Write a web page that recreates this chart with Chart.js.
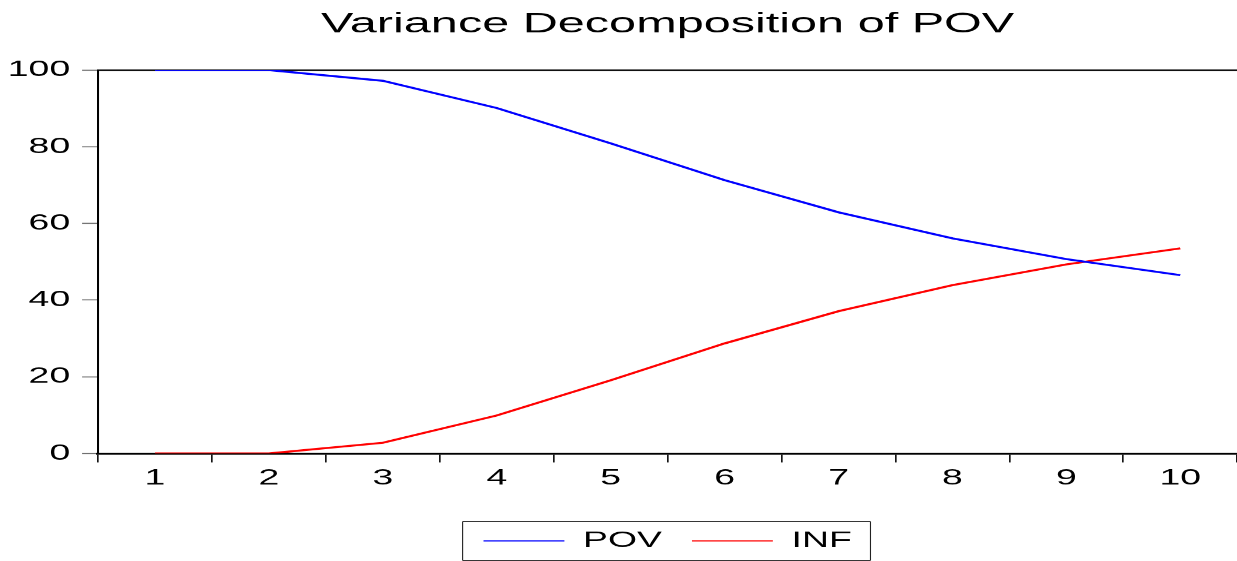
<!DOCTYPE html>
<html>
<head>
<meta charset="utf-8">
<title>Variance Decomposition of POV</title>
<script src="https://cdn.jsdelivr.net/npm/chart.js@4.4.1/dist/chart.umd.min.js"></script>
<style>
  html, body { margin: 0; padding: 0; background: #fff; overflow: hidden; }
  #chart { display: block; }
</style>
</head>
<body>
<!-- drawn on a narrow canvas and stretched wide in CSS, which gives the wide lettering -->
<canvas id="chart" width="728" height="561" style="width:1237px;height:561px"></canvas>
<script>
const periods = ['1', '2', '3', '4', '5', '6', '7', '8', '9', '10'];
const povShare = [100, 100, 97.2, 90.1, 80.9, 71.3, 62.9, 56.1, 50.7, 46.5];
const infShare = [0, 0, 2.8, 9.9, 19.1, 28.7, 37.1, 43.9, 49.3, 53.5];
const yTicks = [0, 20, 40, 60, 80, 100];

const FONT = "'Liberation Sans', Arial, Helvetica, sans-serif";
const STRETCH = 1.6995;

// box around the legend items
const legendFrame = {
    id: 'legendFrame',
    afterDraw(chart) {
        const boxes = chart.legend && chart.legend.legendHitBoxes;
        if (!boxes || !boxes.length) return;
        const first = boxes[0];
        const last = boxes[boxes.length - 1];
        const left = first.left - 12.3;
        const right = last.left + last.width + 11;
        const top = first.top - 8.3;
        const bottom = first.top + first.height + 8.6;
        const ctx = chart.ctx;
        ctx.save();
        ctx.strokeStyle = '#222';
        ctx.lineWidth = 1;
        ctx.beginPath();
        ctx.moveTo(left, top); ctx.lineTo(right, top);
        ctx.moveTo(left, bottom); ctx.lineTo(right, bottom);
        ctx.stroke();
        ctx.lineWidth = 0.65;
        ctx.beginPath();
        ctx.moveTo(left, top); ctx.lineTo(left, bottom);
        ctx.moveTo(right, top); ctx.lineTo(right, bottom);
        ctx.stroke();
        ctx.restore();
    }
};

const ctx = document.getElementById('chart').getContext('2d');

new Chart(ctx, {
    type: 'line',
    data: {
        labels: periods,
        datasets: [{
            label: 'POV',
            data: povShare,
            borderColor: '#0000ff',
            backgroundColor: '#0000ff',
            borderWidth: 2,
            pointRadius: 0,
            tension: 0,
            fill: false
        }, {
            label: 'INF',
            data: infShare,
            borderColor: '#ff0000',
            backgroundColor: '#ff0000',
            borderWidth: 2,
            pointRadius: 0,
            tension: 0,
            fill: false
        }]
    },
    options: {
        responsive: false,
        devicePixelRatio: STRETCH,
        animation: false,
        events: [],
        layout: { padding: 0 },
        plugins: {
            title: {
                display: true,
                text: 'Variance Decomposition of POV',
                fullSize: false,
                color: '#000',
                font: { family: FONT, size: 28.6, weight: 'normal' },
                padding: { top: 7.6, bottom: 28.1 }
            },
            legend: {
                position: 'bottom',
                fullSize: false,
                maxHeight: 49,
                labels: {
                    usePointStyle: true,
                    pointStyle: 'line',
                    pointStyleWidth: 47.6,
                    padding: 17.6,
                    color: '#000',
                    font: { family: FONT, size: 22 },
                    generateLabels(chart) {
                        const items = Chart.defaults.plugins.legend.labels.generateLabels(chart);
                        return items.map(item => ({ ...item, lineWidth: 1.2 }));
                    }
                }
            },
            tooltip: { enabled: false }
        },
        scales: {
            x: {
                type: 'category',
                offset: true,
                afterFit(scale) { scale.height = 58.75; },
                grid: {
                    offset: true,
                    drawOnChartArea: false,
                    drawTicks: true,
                    tickLength: 9,
                    tickColor: '#000',
                    tickWidth: 0.9
                },
                border: { color: '#000', width: 2 },
                ticks: {
                    color: '#000',
                    font: { family: FONT, size: 22 },
                    padding: 3,
                    maxRotation: 0,
                    autoSkip: false
                }
            },
            y: {
                min: 0,
                max: 100,
                afterFit(scale) { scale.width = 57.7; },
                afterBuildTicks(scale) { scale.ticks = yTicks.map(v => ({ value: v })); },
                grid: {
                    // only the top edge line is drawn across the plot
                    color: c => (c.tick && c.tick.value === 100) ? '#000' : 'rgba(0,0,0,0)',
                    lineWidth: 1.6,
                    tickColor: '#666',
                    tickLength: 9.4,
                    tickWidth: 1
                },
                border: { color: '#000', width: 1.2 },
                ticks: {
                    color: '#000',
                    font: { family: FONT, size: 22 },
                    padding: 7
                }
            }
        }
    },
    plugins: [legendFrame]
});
</script>
</body>
</html>
